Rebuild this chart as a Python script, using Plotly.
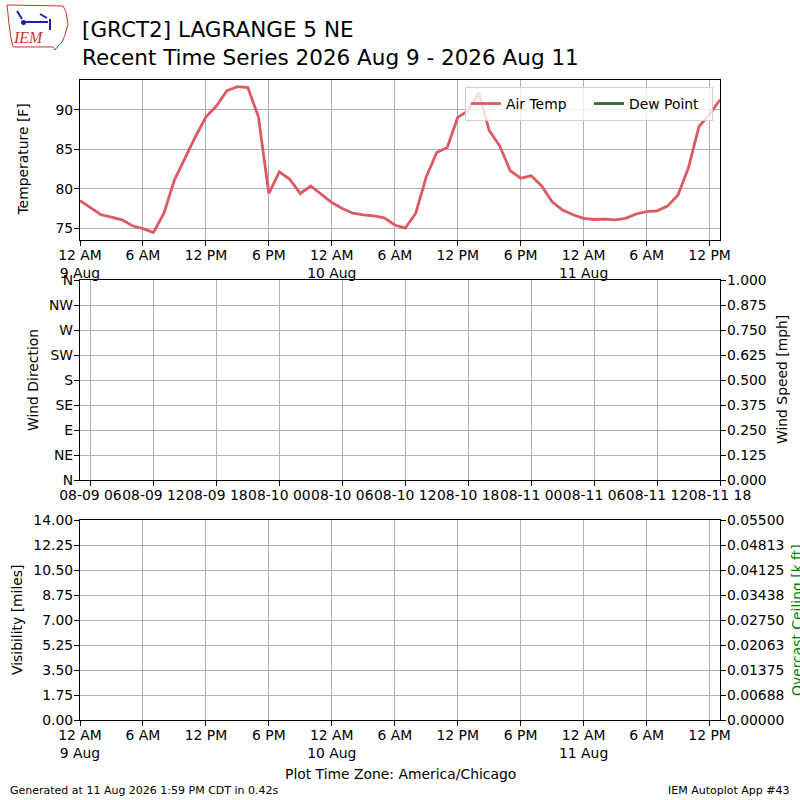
import pandas as pd
import plotly.graph_objects as go

# hourly observations, local time (America/Chicago)
obs_start = "2026-08-09 00:00"
air_temp = [78.5, 77.65, 76.7, 76.4, 76.05, 75.3, 74.95, 74.45, 76.9, 81.1,
            83.9, 86.6, 89.1, 90.5, 92.45, 92.95, 92.85, 89.15, 79.4, 82.15,
            81.2, 79.4, 80.35, 79.3, 78.25, 77.5, 76.9, 76.7, 76.55, 76.3,
            75.4, 75.0, 76.9, 81.5, 84.6, 85.25, 89.05, 89.9, 92.2, 87.4,
            85.45, 82.3, 81.35, 81.65, 80.35, 78.35, 77.3, 76.7, 76.25, 76.1,
            76.15, 76.05, 76.25, 76.8, 77.1, 77.2, 77.8, 79.2, 82.7, 87.9,
            89.45, 91.3]
times = pd.date_range(obs_start, periods=len(air_temp), freq="h")
dew_point = [None] * len(air_temp)

# empty panels (no reports)
wind_dir = []
wind_speed = []
visibility = []
ceiling = []

local_ticks = pd.date_range("2026-08-09 00:00", "2026-08-11 12:00", freq="6h")
local_ticktext = ["12 AM<br>9 Aug", "6 AM", "12 PM", "6 PM",
                  "12 AM<br>10 Aug", "6 AM", "12 PM", "6 PM",
                  "12 AM<br>11 Aug", "6 AM", "12 PM"]
dir_ticks = [0, 45, 90, 135, 180, 225, 270, 315, 360]
dir_labels = ["N", "NE", "E", "SE", "S", "SW", "W", "NW", "N"]
speed_ticks = [0, 0.125, 0.25, 0.375, 0.5, 0.625, 0.75, 0.875, 1.0]
vis_ticks = [0, 1.75, 3.5, 5.25, 7.0, 8.75, 10.5, 12.25, 14.0]
ceil_ticks = [0, 0.006875, 0.01375, 0.020625, 0.0275, 0.034375, 0.04125, 0.048125, 0.055]
ceil_labels = ["0.00000", "0.00688", "0.01375", "0.02063", "0.02750",
               "0.03438", "0.04125", "0.04813", "0.05500"]

FONT = "DejaVu Sans"
TS = 13.9
GRID = "#b0b0b0"

def px(x):
    return x / 800.0

def py(y):
    return 1 - y / 800.0

fig = go.Figure()
fig.add_trace(go.Scatter(x=times, y=air_temp, mode="lines", name="Air Temp",
                         line=dict(color="#dd5a62", width=2.8), xaxis="x", yaxis="y"))
fig.add_trace(go.Scatter(x=times, y=dew_point, mode="lines", name="Dew Point",
                         line=dict(color="#2f6b30", width=2.8), xaxis="x", yaxis="y"))
fig.add_trace(go.Scatter(x=[], y=wind_dir, xaxis="x2", yaxis="y2", showlegend=False))
fig.add_trace(go.Scatter(x=[], y=wind_speed, xaxis="x2", yaxis="y3", showlegend=False))
fig.add_trace(go.Scatter(x=[], y=visibility, xaxis="x3", yaxis="y4", showlegend=False))
fig.add_trace(go.Scatter(x=[], y=ceiling, xaxis="x3", yaxis="y5", showlegend=False))

common = dict(showline=True, linecolor="black", linewidth=1.2, ticks="outside",
              ticklen=5, tickwidth=1.1, tickcolor="black", zeroline=False,
              tickfont=dict(size=TS, color="black"), automargin=False)
xgrid = dict(showgrid=True, gridcolor=GRID, gridwidth=1.1, mirror=True, tickangle=0,
             ticklabelstandoff=-3)
ygrid = dict(showgrid=True, gridcolor=GRID, gridwidth=1.1, ticklabelstandoff=-2)
yright = dict(side="right", showgrid=False, ticklabelstandoff=-2)

fig.update_layout(
    width=800, height=800,
    margin=dict(l=0, r=0, t=0, b=0, autoexpand=False),
    paper_bgcolor="white", plot_bgcolor="white",
    font=dict(family=FONT, size=TS, color="black"),
    xaxis=dict(domain=[0.1, 0.9], anchor="y", type="date",
               range=["2026-08-09 00:00", "2026-08-11 13:00"],
               tickmode="array", tickvals=local_ticks, ticktext=local_ticktext,
               **xgrid, **common),
    yaxis=dict(domain=[0.7, 0.9], anchor="x", range=[73.5, 93.8],
               tickvals=[75, 80, 85, 90], mirror=True, **ygrid, **common),
    xaxis2=dict(domain=[0.1, 0.9], anchor="y2", type="date",
                range=["2026-08-09 05:00", "2026-08-11 18:00"],
                tick0="2026-08-09 00:00", dtick=6 * 3600 * 1000, tickformat="%m-%d %H",
                **xgrid, **common),
    yaxis2=dict(domain=[0.4, 0.65], anchor="x2", range=[0, 360],
                tickmode="array", tickvals=dir_ticks, ticktext=dir_labels,
                **ygrid, **common),
    yaxis3=dict(overlaying="y2", anchor="x2", range=[0, 1],
                tickmode="array", tickvals=speed_ticks, tickformat=".3f",
                **yright, **common),
    xaxis3=dict(domain=[0.1, 0.9], anchor="y4", type="date",
                range=["2026-08-09 00:00", "2026-08-11 13:00"],
                tickmode="array", tickvals=local_ticks, ticktext=local_ticktext,
                **xgrid, **common),
    yaxis4=dict(domain=[0.1, 0.35], anchor="x3", range=[0, 14],
                tickmode="array", tickvals=vis_ticks, tickformat=".2f",
                **ygrid, **common),
    yaxis5=dict(overlaying="y4", anchor="x3", range=[0, 0.055],
                tickmode="array", tickvals=ceil_ticks, ticktext=ceil_labels,
                **yright, **common),
    legend=dict(orientation="h", x=px(713), y=py(87), xanchor="right", yanchor="top",
                bgcolor="rgba(255,255,255,0.8)", bordercolor="#d0d0d0", borderwidth=1,
                font=dict(size=TS), entrywidth=78, tracegroupgap=0),
)

ann = [
    dict(text="[GRCT2] LAGRANGE 5 NE", x=px(80), y=py(29), size=21.5),
    dict(text="Recent Time Series 2026 Aug 9 - 2026 Aug 11", x=px(80), y=py(57), size=21.5),
]
for a in ann:
    fig.add_annotation(text=a["text"], x=a["x"], y=a["y"], xref="paper", yref="paper",
                       xanchor="left", yanchor="middle", showarrow=False,
                       font=dict(size=a["size"], color="black"))

side_titles = [("Temperature [F]", 22.5, 160, "black"),
               ("Wind Direction", 33, 380, "black"),
               ("Wind Speed [mph]", 782, 380, "black"),
               ("Visibility [miles]", 17, 620, "black"),
               ("Overcast Ceiling [k ft]", 797, 620, "green")]
for t, x, y, c in side_titles:
    fig.add_annotation(text=t, x=px(x), y=py(y), xref="paper", yref="paper",
                       xanchor="center", yanchor="middle", textangle=-90,
                       showarrow=False, font=dict(size=TS, color=c))

fig.add_annotation(text="Plot Time Zone: America/Chicago", x=px(400), y=py(774),
                   xref="paper", yref="paper", xanchor="center", yanchor="middle",
                   showarrow=False, font=dict(size=TS))
fig.add_annotation(text="Generated at 11 Aug 2026 1:59 PM CDT in 0.42s", x=px(8), y=py(790),
                   xref="paper", yref="paper", xanchor="left", yanchor="middle",
                   showarrow=False, font=dict(size=11))
fig.add_annotation(text="IEM Autoplot App #43", x=px(792), y=py(790),
                   xref="paper", yref="paper", xanchor="right", yanchor="middle",
                   showarrow=False, font=dict(size=11))

# rough IEM logo
def path(pts, close=True):
    s = "M " + " L ".join("%.4f %.4f" % (px(a), py(b)) for a, b in pts)
    return s + (" Z" if close else "")

iowa = [(7, 5), (63, 6), (66, 12), (68, 24), (65, 35), (62, 42), (58, 46), (55, 50),
        (53, 47), (13, 47), (11, 38), (9, 24), (8, 14)]
fig.add_shape(type="path", path=path(iowa), xref="paper", yref="paper",
              line=dict(color="#d03030", width=1))
blue = "#1c20b0"
for seg in [[(17, 11), (22, 19)], [(24, 22), (48, 22)], [(40, 14), (47, 18)], [(50, 19), (50, 30)]]:
    fig.add_shape(type="path", path=path(seg, close=False), xref="paper", yref="paper",
                  line=dict(color=blue, width=2))
fig.add_shape(type="circle", x0=px(21), x1=px(26), y0=py(25), y1=py(20), xref="paper", yref="paper",
              fillcolor=blue, line=dict(color=blue, width=0))
fig.add_annotation(text="<i>IEM</i>", x=px(29), y=py(38), xref="paper", yref="paper",
                   xanchor="center", yanchor="middle", showarrow=False,
                   font=dict(family="Liberation Serif", size=16, color="#d03030"))

# drop the default page margin so the 800x800 figure fills the window
fig.write_html("out.html", config={"displayModeBar": False},
               post_script="document.body.style.margin='0';")
